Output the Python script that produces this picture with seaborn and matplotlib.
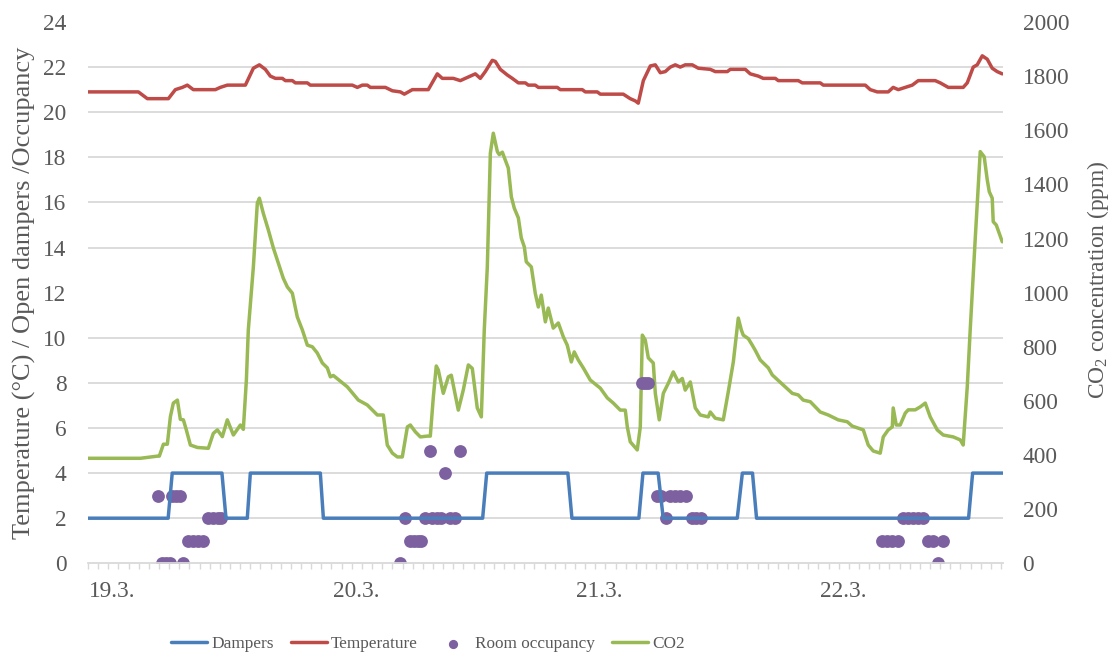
import numpy as np
import matplotlib
matplotlib.use("Agg")
import matplotlib.pyplot as plt
from matplotlib.ticker import FixedLocator
import seaborn as sns

# Time axis: hours since 19.3. 00:00
day_ticks = [0, 24, 48, 72]
day_labels = ["19.3.", "20.3.", "21.3.", "22.3."]

# Number of open dampers
damper_t = [-2.4, 5.5, 5.9, 10.8, 11.2, 13.3, 13.6, 20.5, 20.8, 36.5, 36.9, 44.9, 45.3,
            51.9, 52.3, 53.8, 54.3, 61.6, 62.1, 63.1, 63.5, 84.4, 84.8, 87.8]
damper_v = [2, 2, 4, 4, 2, 2, 4, 4, 2, 2, 4, 4, 2,
            2, 4, 4, 2, 2, 4, 4, 2, 2, 4, 4]

# Indoor air temperature (°C)
temp_t = [-2.4, 2.56, 3.45, 5.52, 6.21, 6.90, 7.39, 7.98, 10.15, 10.64, 11.33, 13.11,
          13.90, 14.49, 15.08, 15.57, 16.07, 16.76, 17.05, 17.74, 18.04, 19.22, 19.51,
          23.65, 24.15, 24.64, 25.13, 25.43, 26.91, 27.60, 28.39, 28.78, 29.57, 31.14,
          32.03, 32.52, 33.61, 34.30, 34.79, 35.78, 36.27, 36.76, 37.45, 37.75, 38.24,
          38.93, 39.42, 40.02, 40.71, 41.00, 41.69, 41.99, 43.86, 44.15, 46.32, 46.62,
          47.80, 48.10, 50.36, 51.05, 51.55, 51.84, 52.34, 53.03, 53.52, 54.01, 54.50,
          55.00, 55.49, 55.98, 56.47, 57.16, 57.76, 58.94, 59.43, 60.62, 60.91, 62.39,
          62.88, 63.67, 64.16, 65.35, 65.64, 67.61, 68.01, 69.78, 70.08, 74.22, 74.71,
          75.40, 76.48, 76.97, 77.47, 78.16, 78.85, 79.44, 81.11, 81.61, 82.40, 83.87,
          84.27, 84.86, 85.25, 85.75, 86.24, 86.73, 87.22, 87.72]
temp_v = [20.9, 20.9, 20.6, 20.6, 21.0, 21.1, 21.2, 21.0, 21.0, 21.1, 21.2, 21.2,
          21.95, 22.1, 21.9, 21.6, 21.5, 21.5, 21.4, 21.4, 21.3, 21.3, 21.2,
          21.2, 21.1, 21.2, 21.2, 21.1, 21.1, 20.95, 20.9, 20.8, 21.0, 21.0,
          21.7, 21.5, 21.5, 21.4, 21.5, 21.7, 21.5, 21.8, 22.3, 22.25, 21.9,
          21.65, 21.5, 21.3, 21.3, 21.2, 21.2, 21.1, 21.1, 21.0, 21.0, 20.9,
          20.9, 20.8, 20.8, 20.6, 20.5, 20.4, 21.4, 22.05, 22.1, 21.75, 21.8,
          22.0, 22.1, 22.0, 22.1, 22.1, 21.95, 21.9, 21.8, 21.8, 21.9, 21.9,
          21.7, 21.6, 21.5, 21.5, 21.4, 21.4, 21.3, 21.3, 21.2, 21.2, 21.0,
          20.9, 20.9, 21.1, 21.0, 21.1, 21.2, 21.4, 21.4, 21.3, 21.1, 21.1,
          21.3, 22.0, 22.1, 22.5, 22.35, 21.95, 21.8, 21.7]

# Room occupancy (persons)
occ_t = [4.53, 4.93, 5.32, 5.72, 5.91, 6.31, 6.70, 7.00, 7.49, 7.98, 8.48, 8.97,
         9.46, 9.95, 10.45, 10.74,
         28.39, 28.88, 29.37, 29.77, 30.16, 30.46, 30.85, 31.34, 31.54, 32.03, 32.43,
         32.82, 33.31, 33.81, 34.30,
         52.24, 52.53, 52.83, 53.72, 54.11, 54.60, 55.00, 55.49, 55.98, 56.57, 57.16,
         57.56, 58.05,
         75.89, 76.38, 76.88, 77.47, 77.96, 78.45, 78.95, 79.44, 79.93, 80.43, 80.92,
         81.41, 81.90]
occ_v = [3, 0, 0, 0, 3, 3, 3, 0, 1, 1, 1, 1,
         2, 2, 2, 2,
         0, 2, 1, 1, 1, 1, 2, 5, 2, 2, 2,
         4, 2, 2, 5,
         8, 8, 8, 3, 3, 2, 3, 3, 3, 3, 2,
         2, 2,
         1, 1, 1, 1, 2, 2, 2, 2, 2, 1, 1,
         0, 1]

# CO2 concentration (ppm)
co2_t = [-2.4, 2.76, 4.44, 4.63, 5.03, 5.42, 5.72, 6.01, 6.41, 6.70, 7.00, 7.29, 7.69,
         8.38, 9.46, 9.95, 10.35, 10.84, 11.33, 11.93, 12.62, 12.91, 13.21, 13.40, 13.90,
         14.29, 14.49, 14.88, 15.38, 15.87, 16.36, 16.85, 17.25, 17.74, 18.23, 18.73,
         19.22, 19.71, 20.20, 20.70, 21.19, 21.49, 21.78, 23.16, 24.25, 25.13, 26.12,
         26.71, 27.10, 27.60, 28.09, 28.58, 29.08, 29.37, 29.86, 30.36, 31.05, 31.34,
         31.64, 31.93, 32.13, 32.62, 33.12, 33.41, 34.10, 34.59, 35.09, 35.48, 35.97,
         36.37, 36.66, 36.96, 37.26, 37.55, 37.95, 38.14, 38.44, 39.03, 39.33, 39.62,
         40.02, 40.31, 40.61, 40.80, 41.30, 41.69, 41.99, 42.28, 42.68, 42.97, 43.46,
         43.96, 44.45, 44.84, 45.24, 45.53, 45.93, 46.42, 47.11, 48.10, 48.79, 49.38,
         50.07, 50.56, 50.76, 51.05, 51.74, 52.04, 52.24, 52.53, 52.83, 53.32, 53.52,
         53.91, 54.31, 54.80, 55.29, 55.79, 56.18, 56.47, 56.97, 57.46, 57.95, 58.74,
         58.94, 59.43, 60.22, 60.71, 61.21, 61.70, 62.00, 62.19, 62.69, 63.08, 63.37,
         63.87, 64.66, 65.05, 66.13, 67.02, 67.61, 68.10, 68.80, 69.78, 70.57, 71.55,
         72.44, 72.93, 74.02, 74.51, 75.00, 75.69, 75.99, 76.48, 76.88, 76.97, 77.27,
         77.66, 78.16, 78.45, 79.14, 79.64, 80.13, 80.62, 81.31, 81.90, 82.89, 83.58,
         83.87, 84.27, 84.56, 85.05, 85.55, 85.94, 86.24, 86.44, 86.73, 86.83, 87.13,
         87.72]
co2_v = [388, 388, 396, 396, 440, 440, 542, 592, 603, 532, 530, 493, 437,
         428, 425, 480, 493, 468, 530, 474, 511, 495, 677, 862, 1096,
         1331, 1349, 1293, 1231, 1165, 1109, 1053, 1021, 998, 910, 862,
         806, 800, 777, 740, 722, 689, 694, 652, 603, 585, 548,
         548, 437, 407, 393, 393, 504, 511, 486, 467, 470, 470,
         615, 729, 714, 628, 689, 695, 566, 640, 733, 720, 574,
         541, 862, 1095, 1515, 1589, 1521, 1510, 1519, 1460, 1354, 1312,
         1276, 1202, 1169, 1114, 1095, 997, 947, 991, 892, 943, 869,
         888, 837, 806, 744, 781, 751, 722, 677, 647, 611, 592,
         566, 566, 504, 449, 419, 504, 843, 825, 759, 740, 628,
         530, 628, 665, 707, 670, 683, 640, 670, 574, 548, 541,
         559, 536, 530, 633, 744, 906, 862, 843, 830, 806, 787,
         751, 722, 696, 659, 628, 622, 603, 597, 559, 548, 530,
         523, 507, 493, 437, 415, 407, 467, 493, 504, 574, 511,
         511, 555, 567, 567, 578, 592, 541, 493, 474, 467, 456,
         437, 652, 862, 1195, 1521, 1502, 1417, 1373, 1349, 1262, 1250,
         1188]

BLUE = "#4A7EBB"
RED = "#BE4B48"
PURPLE = "#7D60A0"
GREEN = "#98B954"
GRID = "#D9D9D9"
TEXT = "#595959"
FS_TICK = 16.8
FS_LEFT = 19.0
FS_RIGHT = 16.8
FS_LEG = 12.4

sns.set_theme(style="white")
plt.rcParams["font.family"] = ["Liberation Serif", "DejaVu Serif"]
plt.rcParams["mathtext.fontset"] = "custom"
plt.rcParams["mathtext.rm"] = "Liberation Serif"
plt.rcParams["mathtext.it"] = "Liberation Serif:italic"

fig, ax = plt.subplots(figsize=(11.17, 6.58), dpi=100)
fig.subplots_adjust(left=0.0788, right=0.898, top=0.9666, bottom=0.1439)
ax2 = ax.twinx()
ax.set_zorder(ax2.get_zorder() + 1)
ax.patch.set_visible(False)

lw = 2.5
sns.lineplot(x=damper_t, y=damper_v, ax=ax, color=BLUE, linewidth=lw, label="Dampers")
sns.lineplot(x=temp_t, y=temp_v, ax=ax, color=RED, linewidth=lw, label="Temperature")
sns.scatterplot(x=occ_t, y=occ_v, ax=ax, color=PURPLE, s=85, linewidth=0,
                label="Room occupancy")
sns.lineplot(x=co2_t, y=co2_v, ax=ax2, color=GREEN, linewidth=lw, label="CO2")

for a in (ax, ax2):
    if a.get_legend() is not None:
        a.get_legend().remove()

# Axis ranges
ax.set_xlim(-2.4, 87.8)
ax.set_ylim(0, 24)
ax2.set_ylim(0, 2000)
ax.set_yticks(range(0, 25, 2))
ax2.set_yticks(range(0, 2001, 200))

# Horizontal gridlines follow the left scale, drawn on the lower axes
ax.grid(False)
ax2.grid(False)
ax2.yaxis.set_minor_locator(FixedLocator([v * 2000 / 24 for v in range(2, 25, 2)]))
ax2.yaxis.grid(True, which="minor", color=GRID, linewidth=1.3)
ax2.tick_params(axis="y", which="minor", length=0)

# Day labels with hourly minor ticks
ax.set_xticks(day_ticks)
ax.set_xticklabels(day_labels)
ax.set_xticks(np.arange(-2.4, 87.85, 1.0), minor=True)
ax.tick_params(axis="x", which="major", length=0, pad=12.5, labelsize=FS_TICK,
               labelcolor=TEXT)
ax.tick_params(axis="x", which="minor", length=4.5, width=1.0, color=GRID,
               direction="out", bottom=True)
ax.tick_params(axis="y", length=0, pad=15.5, labelsize=FS_TICK, labelcolor=TEXT)
ax2.tick_params(axis="y", which="major", length=0, pad=14, labelsize=FS_TICK,
                labelcolor=TEXT)
ax2.tick_params(axis="x", bottom=False, labelbottom=False)

for a in (ax, ax2):
    for side in ("top", "left", "right", "bottom"):
        a.spines[side].set_visible(False)
ax.spines["bottom"].set_visible(True)
ax.spines["bottom"].set_color(GRID)
ax.spines["bottom"].set_linewidth(1.3)

ax.set_xlabel("")
ax.set_ylabel("Temperature (°C) / Open dampers /Occupancy", fontsize=FS_LEFT, color=TEXT)
ax.yaxis.set_label_coords(-0.057, 0.5)
ax2.set_ylabel(r"CO$_\mathrm{2}$ concentration (ppm)", fontsize=FS_RIGHT, color=TEXT)
ax2.yaxis.set_label_coords(1.0896, 0.523)

handles, labels = [], []
for a in (ax, ax2):
    h, l = a.get_legend_handles_labels()
    handles += h
    labels += l
fig.legend(handles, labels, loc="center", bbox_to_anchor=(0.383, 0.021), ncol=4,
           frameon=False, fontsize=FS_LEG, labelcolor=TEXT, handlelength=2.1,
           handletextpad=0.22, columnspacing=1.0, markerscale=0.72)

fig.savefig("out.png", dpi=100)
